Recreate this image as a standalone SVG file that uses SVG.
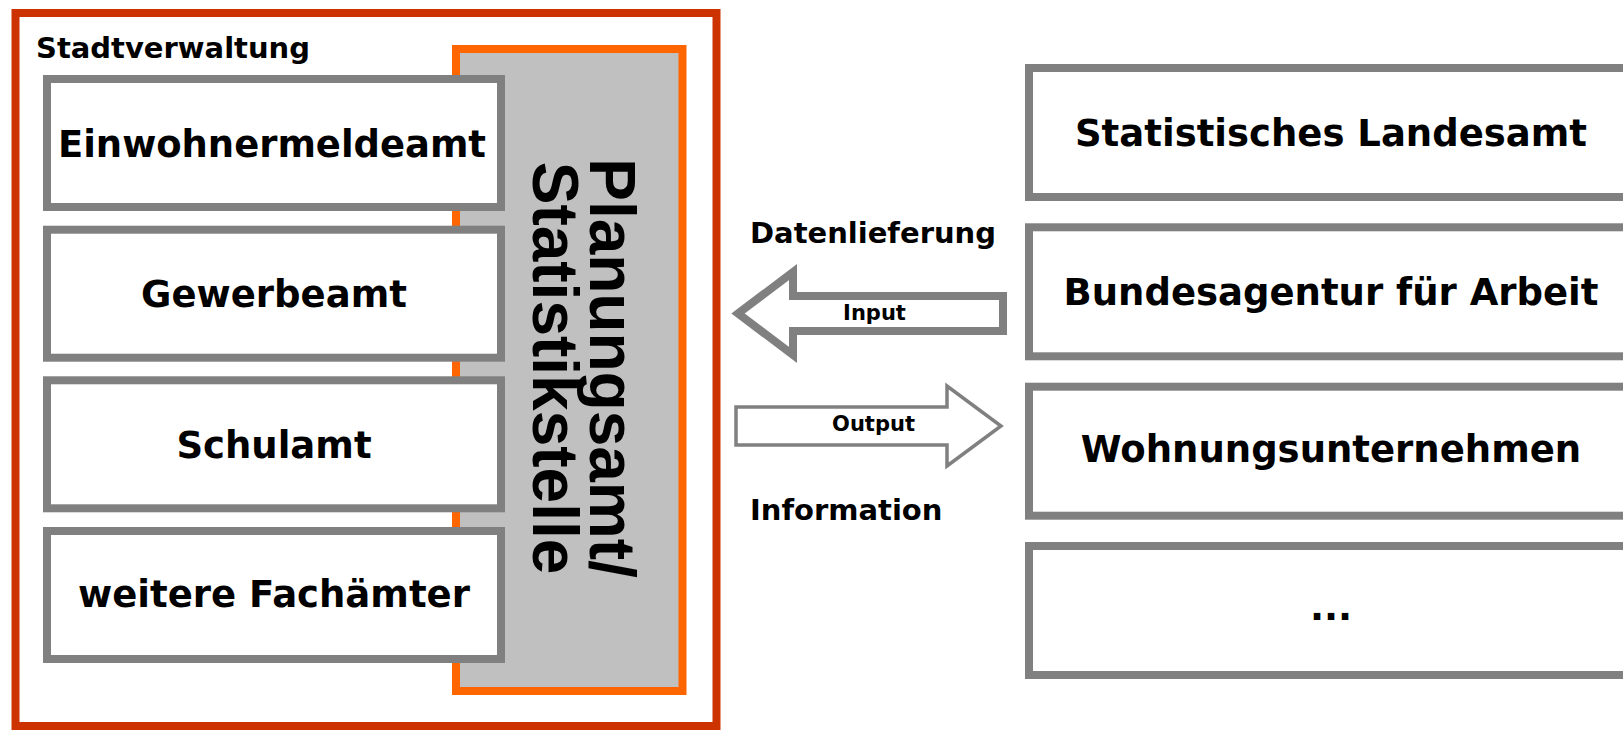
<svg xmlns="http://www.w3.org/2000/svg" width="1623" height="730" viewBox="0 0 1623 730">
<style>
.box{fill:#fff;stroke:#808080;stroke-width:8}
.t{font-family:"DejaVu Sans",Verdana,sans-serif;font-weight:bold;fill:#000}
.bt{font-size:37px;text-anchor:middle}
.lbl{font-size:29px}
.arr{font-size:21px;text-anchor:middle}
.vt{font-family:"Liberation Sans",Arial,sans-serif;font-weight:bold;font-size:64px;text-anchor:middle;fill:#000}
</style>
<rect width="1623" height="730" fill="#fff"/>
<g id="stadtverwaltung">
<rect x="15.5" y="13" width="701" height="713" fill="#fff" stroke="#CC3300" stroke-width="8"/>
<text class="t lbl" x="36" y="58">Stadtverwaltung</text>
</g>
<g id="planungsamt">
<rect x="456" y="49" width="226.5" height="642" fill="#C0C0C0" stroke="#FF6600" stroke-width="8"/>
<text class="vt" transform="translate(590,368) rotate(90)"><tspan x="0" y="0">Planungsamt/</tspan><tspan x="0" y="57">Statistikstelle</tspan></text>
</g>
<g id="einwohnermeldeamt">
<rect class="box" x="47" y="79" width="454" height="128"/>
<text class="t bt" x="272" y="156.5" textLength="428" lengthAdjust="spacingAndGlyphs">Einwohnermeldeamt</text>
</g>
<g id="gewerbeamt">
<rect class="box" x="47" y="229.7" width="454" height="128"/>
<text class="t bt" x="274" y="307">Gewerbeamt</text>
</g>
<g id="schulamt">
<rect class="box" x="47" y="380.3" width="454" height="128"/>
<text class="t bt" x="274" y="458">Schulamt</text>
</g>
<g id="fachaemter">
<rect class="box" x="47" y="531" width="454" height="128"/>
<text class="t bt" x="274" y="607">weitere Fachämter</text>
</g>
<g id="landesamt">
<rect class="box" x="1029" y="68" width="604" height="129"/>
<text class="t bt" x="1331" y="146">Statistisches Landesamt</text>
</g>
<g id="bundesagentur">
<rect class="box" x="1029" y="227.3" width="604" height="129"/>
<text class="t bt" x="1331" y="305">Bundesagentur für Arbeit</text>
</g>
<g id="wohnungsunternehmen">
<rect class="box" x="1029" y="386.7" width="604" height="129"/>
<text class="t bt" x="1331" y="462">Wohnungsunternehmen</text>
</g>
<g id="weitere">
<rect class="box" x="1029" y="546" width="604" height="129"/>
<text class="t bt" x="1331" y="620">...</text>
</g>
<g id="connectors">
<polygon points="738,313.5 793,272 793,296 1003,296 1003,331 793,331 793,355" fill="#fff" stroke="#808080" stroke-width="8"/>
<polygon points="736,407 947,407 947,386 1001,426 947,466 947,445 736,445" fill="#fff" stroke="#808080" stroke-width="3.5"/>
<text class="t arr" x="874.5" y="320">Input</text>
<text class="t arr" x="873.5" y="431">Output</text>
<text class="t lbl" x="750" y="243">Datenlieferung</text>
<text class="t lbl" x="750" y="520">Information</text>
</g>
</svg>
